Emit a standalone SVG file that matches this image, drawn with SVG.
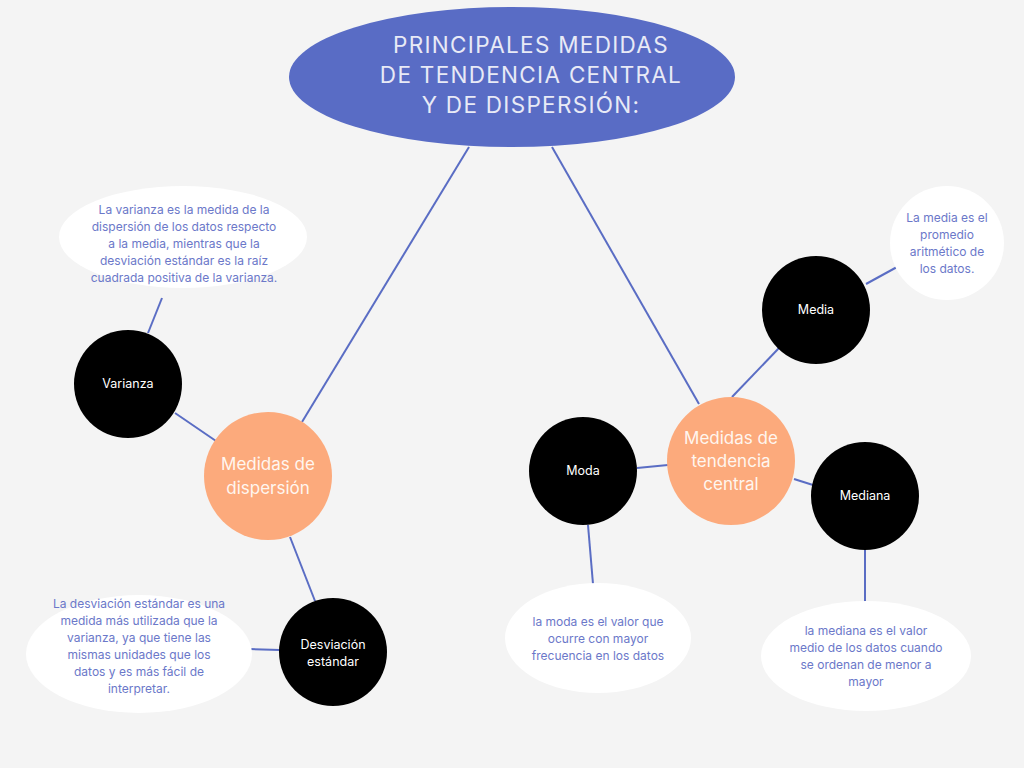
<svg xmlns="http://www.w3.org/2000/svg" width="1024" height="768" viewBox="0 0 1024 768">
<style>
.bg{fill:#f4f4f4}
.con line{stroke:#5a6dc4;stroke-width:2}
.title{fill:#596cc5}
.tt{fill:#e8eaf6;font-family:Inter,"Liberation Sans",sans-serif;font-size:22.5px;letter-spacing:1.3px;text-anchor:middle}
.org{fill:#fcaa7c}
.ot{fill:#fff6ef;font-family:Inter,"Liberation Sans",sans-serif;font-size:17px;text-anchor:middle}
.blk{fill:#000}
.bt{fill:#fff;font-family:Inter,"Liberation Sans",sans-serif;font-size:12.5px;text-anchor:middle}
.wh{fill:#fff}
.wt{fill:#6b78c9;font-family:Inter,"Liberation Sans",sans-serif;font-size:12px;text-anchor:middle}
</style>
<rect class="bg" width="1024" height="768"/>
<g id="connectors" class="con">
<line x1="469" y1="147" x2="302" y2="422"/>
<line x1="552" y1="147" x2="699" y2="404"/>
<line x1="175" y1="413" x2="216" y2="441"/>
<line x1="148" y1="333" x2="162" y2="298"/>
<line x1="290" y1="537" x2="315" y2="601"/>
<line x1="250" y1="649" x2="280" y2="650"/>
<line x1="637" y1="468" x2="668" y2="465"/>
<line x1="588" y1="525" x2="593" y2="584"/>
<line x1="779" y1="348" x2="732" y2="397"/>
<line x1="866" y1="284" x2="897" y2="267"/>
<line x1="794" y1="479" x2="813" y2="485"/>
<line x1="865" y1="550" x2="865" y2="602"/>
</g>
<g id="title">
<ellipse class="title" cx="512" cy="77" rx="223" ry="70"/>
<text class="tt" x="531" y="53">PRINCIPALES MEDIDAS</text>
<text class="tt" x="531" y="83">DE TENDENCIA CENTRAL</text>
<text class="tt" x="531" y="113">Y DE DISPERSIÓN:</text>
</g>
<g id="dispersion">
<circle class="org" cx="268" cy="476" r="64"/>
<text class="ot" x="268" y="470">Medidas de</text>
<text class="ot" x="268" y="494">dispersión</text>
</g>
<g id="tendencia">
<circle class="org" cx="731" cy="461" r="64"/>
<text class="ot" x="731" y="444">Medidas de</text>
<text class="ot" x="731" y="467">tendencia</text>
<text class="ot" x="731" y="490">central</text>
</g>
<g id="varianza">
<circle class="blk" cx="128" cy="384" r="54"/>
<text class="bt" x="128" y="388">Varianza</text>
</g>
<g id="desviacion">
<circle class="blk" cx="333" cy="652" r="54"/>
<text class="bt" x="333" y="649">Desviación</text>
<text class="bt" x="333" y="666">estándar</text>
</g>
<g id="moda">
<circle class="blk" cx="583" cy="471" r="54"/>
<text class="bt" x="583" y="475">Moda</text>
</g>
<g id="media">
<circle class="blk" cx="816" cy="310" r="54"/>
<text class="bt" x="816" y="314">Media</text>
</g>
<g id="mediana">
<circle class="blk" cx="865" cy="496" r="54"/>
<text class="bt" x="865" y="500">Mediana</text>
</g>
<g id="varianza-text">
<ellipse class="wh" cx="183" cy="237" rx="124" ry="51"/>
<text class="wt" x="184" y="214">La varianza es la medida de la</text>
<text class="wt" x="184" y="231">dispersión de los datos respecto</text>
<text class="wt" x="184" y="248">a la media, mientras que la</text>
<text class="wt" x="184" y="265">desviación estándar es la raíz</text>
<text class="wt" x="184" y="282">cuadrada positiva de la varianza.</text>
</g>
<g id="desviacion-text">
<ellipse class="wh" cx="139" cy="654" rx="113" ry="59"/>
<text class="wt" x="139" y="608">La desviación estándar es una</text>
<text class="wt" x="139" y="625">medida más utilizada que la</text>
<text class="wt" x="139" y="642">varianza, ya que tiene las</text>
<text class="wt" x="139" y="659">mismas unidades que los</text>
<text class="wt" x="139" y="676">datos y es más fácil de</text>
<text class="wt" x="139" y="693">interpretar.</text>
</g>
<g id="moda-text">
<ellipse class="wh" cx="598" cy="638" rx="93" ry="55"/>
<text class="wt" x="598" y="626">la moda es el valor que</text>
<text class="wt" x="598" y="643">ocurre con mayor</text>
<text class="wt" x="598" y="660">frecuencia en los datos</text>
</g>
<g id="mediana-text">
<ellipse class="wh" cx="866" cy="656" rx="105" ry="55"/>
<text class="wt" x="866" y="635">la mediana es el valor</text>
<text class="wt" x="866" y="652">medio de los datos cuando</text>
<text class="wt" x="866" y="669">se ordenan de menor a</text>
<text class="wt" x="866" y="686">mayor</text>
</g>
<g id="media-text">
<circle class="wh" cx="947" cy="243" r="57"/>
<text class="wt" x="947" y="222">La media es el</text>
<text class="wt" x="947" y="239">promedio</text>
<text class="wt" x="947" y="256">aritmético de</text>
<text class="wt" x="947" y="273">los datos.</text>
</g>
</svg>
